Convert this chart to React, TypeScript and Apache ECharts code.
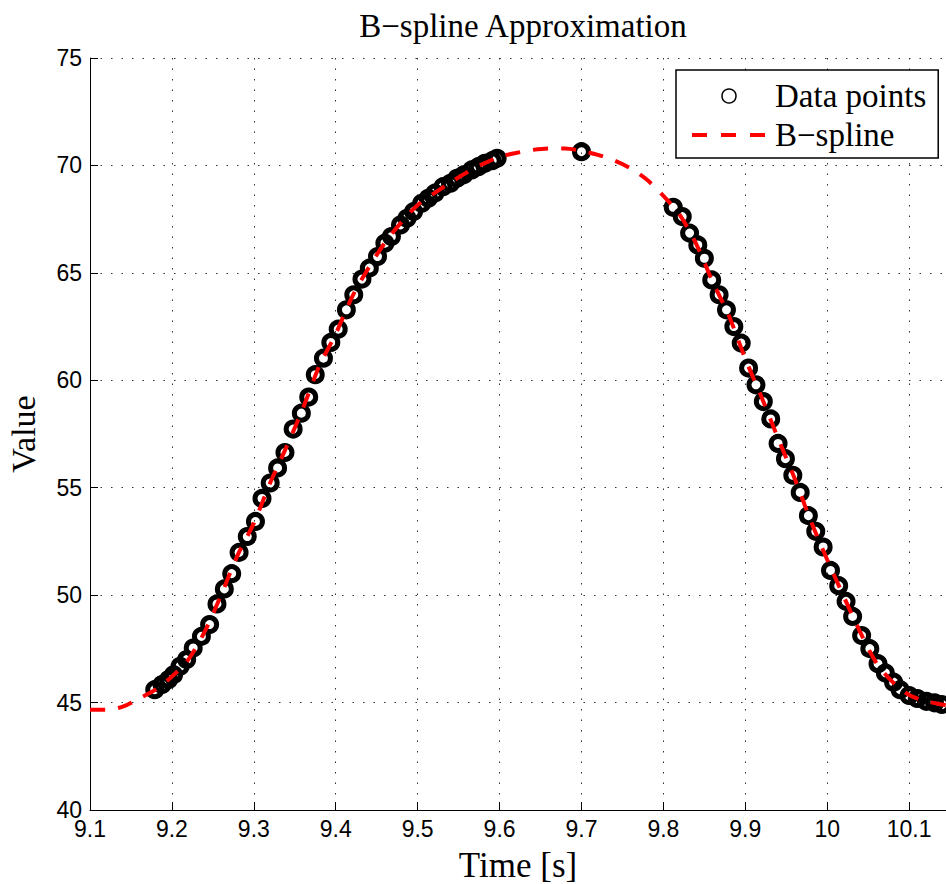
import React, { useEffect, useRef } from "react";
import * as echarts from "echarts";

// Data points (time [s], value)
const riseTimes = [
  9.179, 9.188, 9.196, 9.202, 9.21, 9.218, 9.226, 9.236, 9.246, 9.255, 9.264, 9.273,
  9.282, 9.292, 9.302, 9.31, 9.32, 9.329, 9.338, 9.348, 9.358, 9.367, 9.375, 9.385,
  9.394, 9.403, 9.413, 9.422, 9.432, 9.441, 9.451, 9.46, 9.468, 9.479, 9.487, 9.495,
  9.505, 9.513, 9.521, 9.531, 9.54, 9.548, 9.556, 9.566, 9.574, 9.582, 9.591, 9.597,
];
const riseValues = [
  45.6, 45.84, 46.07, 46.3, 46.69, 47.0, 47.54, 48.08, 48.63, 49.59, 50.29, 51.0,
  51.99, 52.73, 53.43, 54.5, 55.22, 55.92, 56.64, 57.73, 58.47, 59.22, 60.26, 61.03,
  61.76, 62.38, 63.28, 63.98, 64.71, 65.22, 65.76, 66.38, 66.69, 67.23, 67.54, 67.85,
  68.24, 68.47, 68.71, 69.01, 69.17, 69.4, 69.56, 69.79, 69.94, 70.1, 70.22, 70.33,
];
const peakTimes = [9.7];
const peakValues = [70.64];
const fallTimes = [
  9.812, 9.823, 9.832, 9.842, 9.85, 9.859, 9.868, 9.877, 9.886, 9.895, 9.904, 9.913,
  9.922, 9.931, 9.94, 9.949, 9.958, 9.967, 9.977, 9.986, 9.995, 10.004, 10.014, 10.023,
  10.031, 10.042, 10.052, 10.062, 10.071, 10.081, 10.089, 10.1, 10.11, 10.121, 10.131, 10.14,
];
const fallValues = [
  68.05, 67.62, 66.85, 66.3, 65.68, 64.67, 63.98, 63.28, 62.5, 61.73, 60.57, 59.79,
  59.01, 58.2, 57.06, 56.35, 55.58, 54.78, 53.7, 52.97, 52.24, 51.15, 50.44, 49.71,
  49.01, 48.12, 47.51, 46.81, 46.38, 45.95, 45.6, 45.33, 45.19, 45.06, 44.99, 44.91,
];

// B-spline curve (time [s], value)
const splineTimes = [
  9.1, 9.12, 9.14, 9.16, 9.18, 9.2, 9.22, 9.24, 9.26, 9.28, 9.3, 9.32, 9.34, 9.36, 9.38,
  9.4, 9.42, 9.44, 9.46, 9.48, 9.5, 9.52, 9.54, 9.56, 9.58, 9.6, 9.62, 9.64, 9.66, 9.68,
  9.7, 9.72, 9.74, 9.76, 9.78, 9.8, 9.82, 9.84, 9.86, 9.88, 9.9, 9.92, 9.94, 9.96, 9.98,
  10.0, 10.02, 10.04, 10.06, 10.08, 10.1, 10.12, 10.14, 10.145,
];
const splineValues = [
  44.67, 44.67, 44.81, 45.19, 45.6, 46.21, 47.0, 48.3, 50.0, 51.84, 53.35, 55.23, 56.91, 58.7, 60.67,
  62.16, 63.88, 65.23, 66.4, 67.35, 68.16, 68.7, 69.21, 69.67, 70.07, 70.4, 70.58, 70.72, 70.79, 70.79,
  70.67, 70.49, 70.23, 69.86, 69.33, 68.58, 67.7, 66.35, 64.6, 63.0, 61.0, 59.2, 57.3, 55.45, 53.45,
  51.65, 49.95, 48.3, 46.85, 45.95, 45.35, 45.07, 44.91, 44.88,
];

const yTicks = { min: 40, max: 75, step: 5 };
const xTicks = { min: 9.1, max: 10.145, step: 0.1 };

const zip = (a: number[], b: number[]) => a.map((t, i) => [t, b[i]]);

export default function App() {
  const ref = useRef<HTMLDivElement>(null);
  useEffect(() => {
    if (!ref.current) return;
    const chart = echarts.init(ref.current, null, { renderer: "svg" });
    const points = [
      ...zip(riseTimes, riseValues),
      ...zip(peakTimes, peakValues),
      ...zip(fallTimes, fallValues),
    ];
    const spline = zip(splineTimes, splineValues);
    const gridDots = { color: "#333", type: [1.5, 9] as number[], width: 1 };
    chart.setOption({
      animation: false,
      backgroundColor: "#fff",
      title: {
        text: "B\u2212spline Approximation",
        left: 518,
        top: 4,
        textAlign: "center",
        textStyle: {
          fontFamily: "Liberation Serif",
          fontSize: 33,
          fontWeight: "normal",
          color: "#000",
        },
      },
      grid: { left: 90, right: 0, top: 58, bottom: 74, containLabel: false, outerBoundsMode: "none" },
      legend: {
        orient: "vertical",
        left: 676,
        top: 70,
        itemWidth: 74,
        itemHeight: 14,
        itemGap: 3,
        padding: [8, 12, 5, 14],
        backgroundColor: "#fff",
        borderColor: "#000",
        borderWidth: 1.5,
        borderRadius: 0,
        selectedMode: false,
        symbolKeepAspect: true,
        textStyle: {
          fontFamily: "Liberation Serif",
          fontSize: 33,
          color: "#000",
          lineHeight: 36,
          padding: [0, 0, 0, 4],
        },
        data: [
          {
            name: "Data points",
            icon: "circle",
            itemStyle: { color: "#fff", borderColor: "#000", borderWidth: 1.5, opacity: 1 },
          },
          {
            name: "B\u2212spline",
            itemStyle: { color: "rgba(0,0,0,0)", borderColor: "rgba(0,0,0,0)", borderWidth: 0 },
            lineStyle: { color: "#ff0000", width: 4, type: [15, 14] },
          },
        ],
      },
      xAxis: {
        type: "value",
        min: xTicks.min,
        max: xTicks.max,
        interval: xTicks.step,
        name: "Time [s]",
        nameLocation: "middle",
        nameGap: 38,
        nameTextStyle: { fontFamily: "Liberation Serif", fontSize: 35, color: "#000" },
        axisLine: { show: true, lineStyle: { color: "#000", width: 1 } },
        axisTick: { show: true, inside: true, length: 8, lineStyle: { color: "#000" } },
        axisLabel: {
          color: "#000",
          fontFamily: "Liberation Sans",
          fontSize: 23,
          margin: 7,
          showMaxLabel: false,
          formatter: (v: number) => {
            const r = Math.round(v * 10) / 10;
            return Math.abs(r - v) < 1e-6 ? String(r) : "";
          },
        },
        splitLine: { show: true, lineStyle: gridDots },
      },
      yAxis: {
        type: "value",
        min: yTicks.min,
        max: yTicks.max,
        interval: yTicks.step,
        name: "Value",
        nameLocation: "middle",
        nameRotate: 90,
        nameGap: 50,
        nameTextStyle: { fontFamily: "Liberation Serif", fontSize: 34, color: "#000" },
        axisLine: { show: true, lineStyle: { color: "#000", width: 1 } },
        axisTick: { show: true, inside: true, length: 8, lineStyle: { color: "#000" } },
        axisLabel: {
          color: "#000",
          fontFamily: "Liberation Sans",
          fontSize: 23,
          margin: 8,
          padding: [4, 0, 0, 0],
        },
        splitLine: { show: true, lineStyle: gridDots },
      },
      series: [
        {
          name: "Data points",
          type: "scatter",
          data: points,
          symbol: "circle",
          symbolSize: 14,
          itemStyle: { color: "rgba(0,0,0,0)", borderColor: "#000", borderWidth: 5, opacity: 1 },
          z: 2,
          silent: true,
        },
        {
          name: "B\u2212spline",
          type: "line",
          data: spline,
          smooth: 0.3,
          showSymbol: false,
          symbol: "none",
          itemStyle: { color: "#ff0000" },
          lineStyle: { color: "#ff0000", width: 4, type: [15, 13], cap: "butt" },
          z: 3,
          silent: true,
        },
      ],
    });
    return () => chart.dispose();
  }, []);
  return (
    <div
      ref={ref}
      style={{ position: "absolute", left: 0, top: 0, width: 946, height: 884, background: "#fff" }}
    />
  );
}
